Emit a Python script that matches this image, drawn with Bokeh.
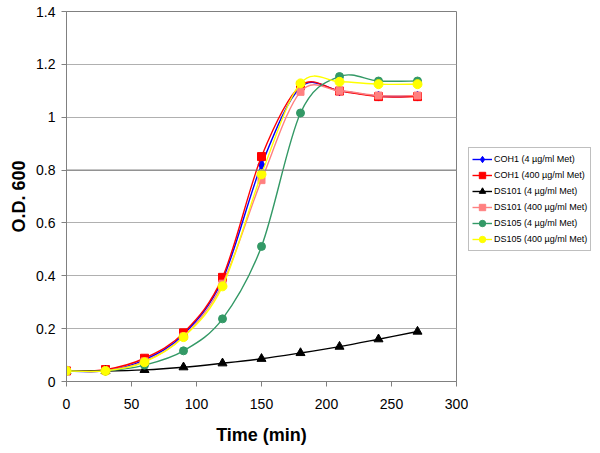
from bokeh.plotting import figure
from bokeh.layouts import row
from bokeh.models import ColumnDataSource, Legend, LegendItem, FixedTicker, Span, Range1d
from bokeh.embed import file_html
from bokeh.resources import INLINE

# ---- data ----
time_min = [0, 30, 60, 90, 120, 150, 180, 210, 240, 270]

coh1_4 = [0.040, 0.040, 0.082, 0.178, 0.385, 0.820, 1.113, 1.100, 1.080, 1.080]
coh1_400 = [0.040, 0.045, 0.088, 0.184, 0.394, 0.851, 1.119, 1.099, 1.078, 1.078]
ds101_4 = [0.040, 0.040, 0.044, 0.054, 0.069, 0.086, 0.108, 0.132, 0.160, 0.189]
ds101_400 = [0.040, 0.040, 0.076, 0.170, 0.370, 0.762, 1.096, 1.100, 1.082, 1.082]
ds105_4 = [0.040, 0.040, 0.062, 0.116, 0.237, 0.511, 1.016, 1.154, 1.137, 1.137]
ds105_400 = [0.040, 0.040, 0.073, 0.168, 0.360, 0.784, 1.128, 1.134, 1.125, 1.125]

series_values = [coh1_4, coh1_400, ds101_4, ds101_400, ds105_4, ds105_400]
series_labels = [
    "COH1 (4 µg/ml Met)",
    "COH1 (400 µg/ml Met)",
    "DS101 (4 µg/ml Met)",
    "DS101 (400 µg/ml Met)",
    "DS105 (4 µg/ml Met)",
    "DS105 (400 µg/ml Met)",
]
series_colors = ["#0000FF", "#FF0000", "#000000", "#FF8080", "#339966", "#FFFF00"]
series_markers = ["diamond", "square", "triangle", "square", "circle", "circle"]
series_sizes = [10, 8, 9, 7, 8, 9]

x_ticks = [0, 50, 100, 150, 200, 250, 300]
y_ticks = [0, 0.2, 0.4, 0.6, 0.8, 1, 1.2, 1.4]
y_tick_labels = ["0", "0.2", "0.4", "0.6", "0.8", "1", "1.2", "1.4"]

FONT = "Liberation Sans"


def smooth_segments(xs, ys):
    """Bezier segments through the data points (spreadsheet-style smoothed line)."""
    n = len(xs)
    d = dict(x0=[], y0=[], x1=[], y1=[], cx0=[], cy0=[], cx1=[], cy1=[])
    for i in range(n - 1):
        a = i - 1 if i > 0 else i
        b = i + 2 if i + 2 < n else i + 1
        d["x0"].append(xs[i]); d["y0"].append(ys[i])
        d["x1"].append(xs[i + 1]); d["y1"].append(ys[i + 1])
        d["cx0"].append(xs[i] + (xs[i + 1] - xs[a]) / 6.0)
        d["cy0"].append(ys[i] + (ys[i + 1] - ys[a]) / 6.0)
        d["cx1"].append(xs[i + 1] - (xs[b] - xs[i]) / 6.0)
        d["cy1"].append(ys[i + 1] - (ys[b] - ys[i]) / 6.0)
    return ColumnDataSource(d)


p = figure(
    width=468, height=453,
    output_backend="svg", toolbar_location=None,
    x_range=Range1d(0, 300), y_range=Range1d(0, 1.4),
    min_border_left=66, min_border_right=12,
    min_border_top=11, min_border_bottom=72,
    background_fill_color="white", border_fill_color="white",
)
p.outline_line_color = "#808080"
p.outline_line_width = 1

p.xgrid.visible = False
p.ygrid.grid_line_color = "#b0b0b0"
p.ygrid.grid_line_width = 1
p.add_layout(Span(location=0.8, dimension="width", line_color="#7a7a7a", line_width=1))

# axes
p.xaxis.ticker = FixedTicker(ticks=x_ticks)
p.yaxis.ticker = FixedTicker(ticks=y_ticks)
p.yaxis.major_label_overrides = {t: l for t, l in zip(y_ticks, y_tick_labels)}
for ax in (p.xaxis[0], p.yaxis[0]):
    ax.axis_line_color = "#808080"
    ax.major_tick_line_color = "#808080"
    ax.major_tick_out = 5
    ax.major_tick_in = 0
    ax.minor_tick_line_color = None
    ax.major_label_text_font = FONT
    ax.major_label_text_font_size = "14px"
    ax.major_label_text_color = "black"
    ax.axis_label_text_font = FONT
    ax.axis_label_text_font_size = "18px"
    ax.axis_label_text_font_style = "bold"
    ax.axis_label_text_color = "black"

p.xaxis.axis_label = "Time (min)"
p.yaxis.axis_label = "O.D. 600"
p.xaxis.major_label_standoff = 12
p.xaxis.axis_label_standoff = 13
p.yaxis.major_label_standoff = 6
p.yaxis.axis_label_standoff = 4

# legend panel (separate narrow figure to the right of the plot); its ranges
# lie outside the data so only the legend keys are seen
pl = figure(
    width=132, height=453,
    output_backend="svg", toolbar_location=None,
    x_range=Range1d(1000, 1001), y_range=Range1d(1000, 1001),
    min_border=0, min_border_left=0, min_border_right=0,
    min_border_top=0, min_border_bottom=0,
    background_fill_color="white", border_fill_color="white",
)
pl.axis.visible = False
pl.grid.visible = False
pl.outline_line_color = None

items = []
for vals, lab, col, mk, sz in zip(series_values, series_labels, series_colors,
                                  series_markers, series_sizes):
    src = smooth_segments(time_min, vals)
    p.bezier(x0="x0", y0="y0", x1="x1", y1="y1",
             cx0="cx0", cy0="cy0", cx1="cx1", cy1="cy1",
             source=src, line_color=col, line_width=1.4)
    p.scatter(time_min, vals, marker=mk, size=sz, fill_color=col, line_color=col)
    k_line = pl.line(time_min, vals, line_color=col, line_width=1.4)
    k_pts = pl.scatter(time_min, vals, marker=mk, size=sz, fill_color=col, line_color=col)
    items.append(LegendItem(label=lab, renderers=[k_line, k_pts]))

legend = Legend(
    items=items,
    location=(0, 130),
    border_line_color="#808080",
    border_line_width=1,
    background_fill_color="white",
    label_text_font=FONT,
    label_text_font_size="9px",
    label_text_color="black",
    glyph_width=20, glyph_height=16,
    label_height=16, label_standoff=2,
    spacing=0, padding=3, margin=0,
)
pl.add_layout(legend, "center")

layout = row(p, pl, spacing=0)
open("out.html", "w").write(file_html(layout, INLINE))
